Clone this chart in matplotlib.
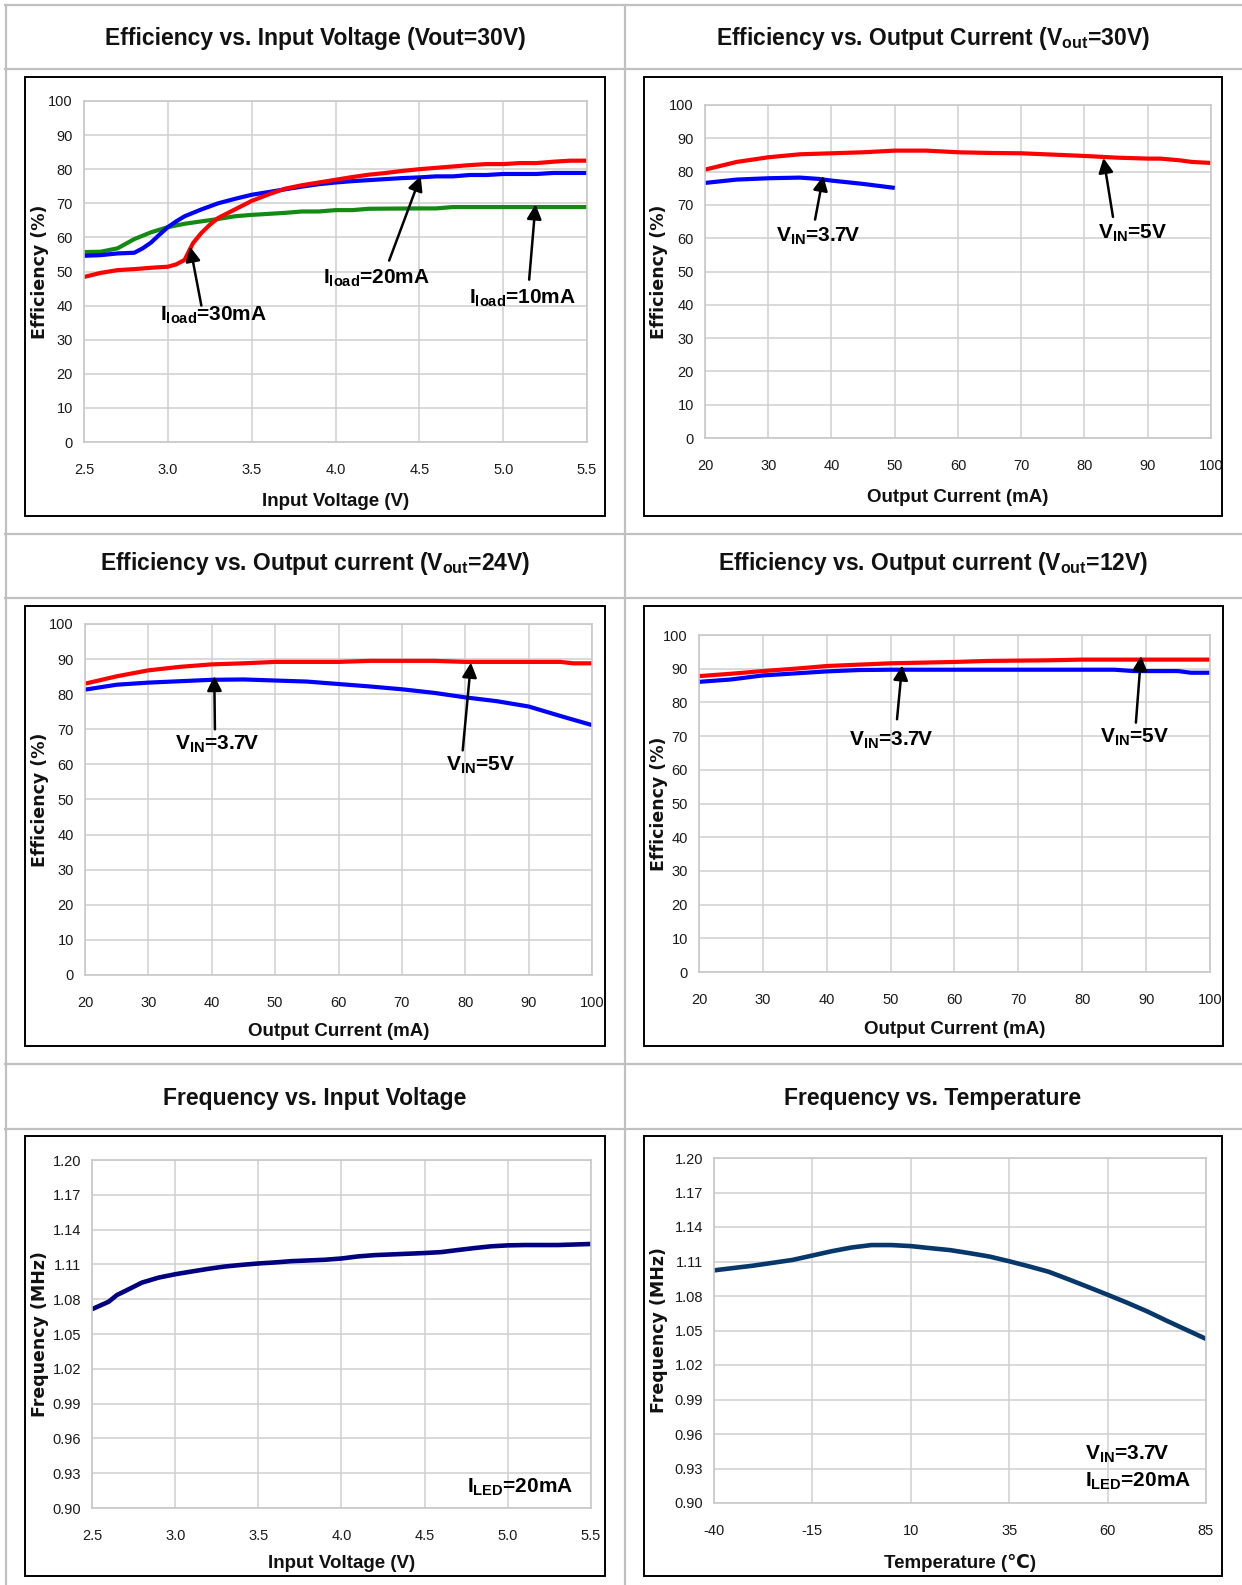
import matplotlib
matplotlib.use('Agg')
import matplotlib.pyplot as plt
from matplotlib.lines import Line2D
from matplotlib.patches import Rectangle
from matplotlib.ticker import FormatStrFormatter

W, H = 1242, 1585

plt.rcParams['mathtext.fontset'] = 'custom'
plt.rcParams['mathtext.bf'] = 'Liberation Sans:bold'
plt.rcParams['mathtext.sf'] = 'Liberation Sans:bold'
plt.rcParams['mathtext.rm'] = 'Liberation Sans'
plt.rcParams['axes.unicode_minus'] = False

TICK_FONT = ['Liberation Sans', 'DejaVu Sans']
LABEL_FONT = ['Liberation Sans', 'DejaVu Sans']
ANN_FONT = ['Liberation Sans', 'DejaVu Sans']

# --- panel 1: efficiency vs input voltage (Vout=30V)
p1_x30 = [2.5, 2.6, 2.7, 2.8, 2.9, 3.0, 3.05, 3.1, 3.15, 3.2, 3.25, 3.3, 3.4, 3.5, 3.6, 3.7,
          3.8, 3.9, 4.0, 4.1, 4.2, 4.3, 4.4, 4.5, 4.6, 4.7, 4.8, 4.9, 5.0, 5.1, 5.2, 5.3, 5.4, 5.5]
p1_y30 = [48.4, 49.6, 50.4, 50.7, 51.1, 51.4, 52.1, 53.4, 58.3, 61.3, 63.7, 65.7, 68.2, 70.7, 72.6, 74.3,
          75.3, 76.1, 76.9, 77.7, 78.4, 78.9, 79.5, 80.0, 80.4, 80.8, 81.2, 81.5, 81.5, 81.8, 81.8, 82.2, 82.5, 82.5]
p1_x20 = [2.5, 2.6, 2.7, 2.8, 2.85, 2.9, 2.95, 3.0, 3.05, 3.1, 3.2, 3.3, 3.4, 3.5, 3.6, 3.7,
          3.8, 3.9, 4.0, 4.1, 4.2, 4.3, 4.4, 4.5, 4.6, 4.7, 4.8, 4.9, 5.0, 5.2, 5.3, 5.5]
p1_y20 = [54.6, 54.8, 55.3, 55.5, 56.8, 58.5, 60.8, 63.0, 64.7, 66.2, 68.2, 70.0, 71.3, 72.5, 73.3, 74.1,
          74.9, 75.6, 76.1, 76.5, 76.8, 77.1, 77.4, 77.6, 77.9, 77.9, 78.3, 78.3, 78.6, 78.6, 78.9, 78.9]
p1_x10 = [2.5, 2.6, 2.7, 2.8, 2.9, 3.0, 3.1, 3.2, 3.3, 3.4, 3.5, 3.6, 3.7, 3.8, 3.9, 4.0,
          4.1, 4.2, 4.5, 4.6, 4.7, 5.5]
p1_y10 = [55.7, 55.8, 56.8, 59.5, 61.5, 63.0, 64.0, 64.7, 65.4, 66.2, 66.6, 66.9, 67.2, 67.6, 67.6, 68.0,
          68.0, 68.4, 68.5, 68.5, 68.9, 68.9]

# --- panel 2: efficiency vs output current (Vout=30V)
p2_x5 = [20, 25, 30, 35, 40, 45, 50, 55, 60, 65, 70, 75, 80, 85, 90, 92, 95, 97, 100]
p2_y5 = [80.6, 82.9, 84.3, 85.2, 85.5, 85.8, 86.3, 86.3, 85.8, 85.6, 85.5, 85.1, 84.7, 84.2, 83.9, 83.9, 83.4, 82.9, 82.6]
p2_x37 = [20, 25, 30, 35, 38, 40, 45, 50]
p2_y37 = [76.6, 77.6, 78.0, 78.2, 77.8, 77.3, 76.3, 75.1]

# --- panel 3: efficiency vs output current (Vout=24V)
p3_x5 = [20, 25, 30, 35, 40, 45, 50, 55, 60, 65, 70, 75, 80, 85, 90, 95, 97, 100]
p3_y5 = [83.0, 85.1, 86.8, 87.8, 88.5, 88.8, 89.2, 89.2, 89.2, 89.5, 89.5, 89.5, 89.2, 89.2, 89.2, 89.2, 88.8, 88.8]
p3_x37 = [20, 25, 30, 35, 40, 45, 50, 55, 60, 65, 70, 75, 80, 85, 90, 95, 100]
p3_y37 = [81.3, 82.7, 83.3, 83.7, 84.1, 84.2, 83.9, 83.6, 82.9, 82.2, 81.4, 80.4, 79.1, 78.0, 76.5, 73.8, 71.2]

# --- panel 4: efficiency vs output current (Vout=12V)
p4_x5 = [20, 25, 30, 35, 40, 45, 50, 55, 60, 65, 70, 75, 80, 85, 90, 95, 100]
p4_y5 = [87.8, 88.5, 89.3, 90.0, 90.8, 91.2, 91.6, 91.8, 92.0, 92.3, 92.4, 92.5, 92.7, 92.7, 92.7, 92.7, 92.7]
p4_x37 = [20, 25, 30, 35, 40, 45, 50, 60, 70, 80, 85, 88, 95, 97, 100]
p4_y37 = [86.1, 86.8, 88.0, 88.6, 89.2, 89.6, 89.7, 89.7, 89.7, 89.7, 89.7, 89.3, 89.3, 88.8, 88.8]

# --- panel 5: frequency vs input voltage
p5_x = [2.5, 2.6, 2.65, 2.7, 2.8, 2.9, 3.0, 3.1, 3.2, 3.3, 3.4, 3.5, 3.6, 3.7, 3.8, 3.9, 4.0,
        4.1, 4.2, 4.3, 4.4, 4.5, 4.6, 4.7, 4.8, 4.9, 5.0, 5.1, 5.3, 5.5]
p5_y = [1.0714, 1.0778, 1.0836, 1.0871, 1.0943, 1.0986, 1.1015, 1.1039, 1.1062, 1.1082, 1.1096, 1.1108,
        1.1117, 1.1128, 1.1134, 1.1140, 1.1151, 1.1169, 1.1180, 1.1186, 1.1192, 1.1198, 1.1206, 1.1224,
        1.1241, 1.1256, 1.1264, 1.1267, 1.1267, 1.1276]

# --- panel 6: frequency vs temperature
p6_x = [-40, -30, -20, -15, -10, -5, 0, 5, 10, 15, 20, 25, 30, 35, 40, 45, 50, 55, 60, 65, 70, 75, 80, 85]
p6_y = [1.1023, 1.1064, 1.1114, 1.1152, 1.1190, 1.1222, 1.1243, 1.1243, 1.1234, 1.1216, 1.1199, 1.1172,
        1.1143, 1.1102, 1.1058, 1.1011, 1.0946, 1.0879, 1.0811, 1.0741, 1.0667, 1.0585, 1.0506, 1.0427]

eff_ticks = list(range(0, 101, 10))
cur_ticks = list(range(20, 101, 10))
vin_ticks = [2.5, 3.0, 3.5, 4.0, 4.5, 5.0, 5.5]
freq_ticks = [0.90, 0.93, 0.96, 0.99, 1.02, 1.05, 1.08, 1.11, 1.14, 1.17, 1.20]
temp_ticks = [-40, -15, 10, 35, 60, 85]

titles = [
    'Efficiency vs. Input Voltage (Vout=30V)',
    r'Efficiency vs. Output Current ($\mathsf{V_{out}}$=30V)',
    r'Efficiency vs. Output current ($\mathsf{V_{out}}$=24V)',
    r'Efficiency vs. Output current ($\mathsf{V_{out}}$=12V)',
    'Frequency vs. Input Voltage',
    'Frequency vs. Temperature',
]

fig = plt.figure(figsize=(W / 100, H / 100), dpi=100)


def frac(x0, y0, x1, y1):
    return [x0 / W, 1 - y1 / H, (x1 - x0) / W, (y1 - y0) / H]


# table lines
tcol = '#c0c0c0'
for yy in [5, 68.5, 534, 598.5, 1064, 1128.5]:
    fig.add_artist(Line2D([5 / W, 1], [1 - yy / H] * 2, color=tcol, lw=1.6))
for xx in [5.5, 625]:
    fig.add_artist(Line2D([xx / W] * 2, [1 - 5 / H, 0], color=tcol, lw=1.6))

# title positions (centre x, centre y) in px
title_pos = [(315, 38), (933, 38), (315, 564), (933, 564), (315, 1098), (933, 1098)]
for t, (cx, cy) in zip(titles, title_pos):
    fig.text(cx / W, 1 - cy / H, t, ha='center', va='center', fontsize=16.5,
             fontweight='bold', family='Liberation Sans', color='#111111')

# chart boxes
boxes = [(25, 77, 605, 516), (644, 77, 1222, 516), (25, 606, 605, 1046),
         (644, 606, 1223, 1046), (25, 1136, 605, 1576), (644, 1136, 1222, 1576)]
for x0, y0, x1, y1 in boxes:
    r = frac(x0, y0, x1, y1)
    fig.add_artist(Rectangle((r[0], r[1]), r[2], r[3], transform=fig.transFigure,
                             fill=False, edgecolor='black', lw=1.4))

# plot areas in px
areas = [(84, 101, 587, 442), (705, 105, 1211, 438), (85, 624, 592, 975),
         (699, 635, 1210, 972), (92, 1160, 591, 1508), (714, 1158, 1206, 1503)]
# y-label centre x in px, x-label offset below axes in px
ylab_x = [40, 659, 40, 659, 40, 659]
xlab_off = [60, 60, 56, 58, 55, 60]

xlabels = ['Input Voltage (V)', 'Output Current (mA)', 'Output Current (mA)',
           'Output Current (mA)', 'Input Voltage (V)', 'Temperature (\u2103)']
ylabels = ['Efficiency (%)'] * 4 + ['Frequency (MHz)'] * 2

axes = []
for i, (x0, y0, x1, y1) in enumerate(areas):
    ax = fig.add_axes(frac(x0, y0, x1, y1))
    ax.set_facecolor('white')
    ax.grid(True, color='#d0d0d0', lw=1.1)
    ax.set_axisbelow(True)
    for s in ax.spines.values():
        s.set_color('#c8c8c8')
        s.set_linewidth(1.2)
    ax.tick_params(length=0, labelsize=10.5, labelcolor='#1a1a1a')
    ax.tick_params(axis='x', pad=15)
    ax.tick_params(axis='y', pad=8)
    ax.set_xlabel(xlabels[i], fontsize=13.5, fontweight='bold', family=LABEL_FONT, color='#111111')
    ax.set_ylabel(ylabels[i], fontsize=12.5, fontweight='bold', family='DejaVu Sans', color='#111111')
    ax.xaxis.label.set_va('center')
    ax.yaxis.label.set_va('center')
    ax.xaxis.set_label_coords(0.5, -xlab_off[i] / (y1 - y0))
    ax.yaxis.set_label_coords((ylab_x[i] - x0) / (x1 - x0), 0.5)
    axes.append(ax)


def finish_ticks(ax, xt, yt, xfmt=None, yfmt=None):
    ax.set_xticks(xt)
    ax.set_yticks(yt)
    ax.set_xlim(xt[0], xt[-1])
    ax.set_ylim(yt[0], yt[-1])
    if xfmt:
        ax.xaxis.set_major_formatter(FormatStrFormatter(xfmt))
    if yfmt:
        ax.yaxis.set_major_formatter(FormatStrFormatter(yfmt))
    for lab in ax.get_xticklabels() + ax.get_yticklabels():
        lab.set_family(TICK_FONT)


def arrow(ax, tail, head):
    ax.annotate('', xy=head, xytext=tail,
                arrowprops=dict(arrowstyle='-|>', color='black', lw=1.8,
                                mutation_scale=22, shrinkA=0, shrinkB=0))


def label(ax, x, y, s, ha='center'):
    ax.text(x, y, s, ha=ha, va='center', fontsize=15, fontweight='bold',
            family=ANN_FONT, color='black')


LW = 3.0
RED, BLUE, GREEN = '#ff0000', '#0000ff', '#138a13'

ax = axes[0]
ax.plot(p1_x10, p1_y10, color=GREEN, lw=LW, solid_capstyle='butt')
ax.plot(p1_x20, p1_y20, color=BLUE, lw=LW, solid_capstyle='butt')
ax.plot(p1_x30, p1_y30, color=RED, lw=LW, solid_capstyle='butt')
finish_ticks(ax, vin_ticks, eff_ticks, xfmt='%.1f')
arrow(ax, (3.2, 40), (3.133, 57.3))
label(ax, 3.275, 37, r'$\mathbf{I_{load}}$=30mA')
arrow(ax, (4.32, 53.2), (4.508, 78))
label(ax, 4.243, 47.9, r'$\mathbf{I_{load}}$=20mA')
arrow(ax, (5.155, 47.6), (5.193, 69.7))
label(ax, 5.113, 42, r'$\mathbf{I_{load}}$=10mA')

ax = axes[1]
ax.plot(p2_x5, p2_y5, color=RED, lw=LW, solid_capstyle='butt')
ax.plot(p2_x37, p2_y37, color=BLUE, lw=LW, solid_capstyle='butt')
finish_ticks(ax, cur_ticks, eff_ticks)
arrow(ax, (37.4, 65.6), (38.7, 78.7))
label(ax, 38.0, 60.6, r'$\mathbf{V_{IN}}$=3.7V')
arrow(ax, (84.5, 66.4), (83.0, 84.1))
label(ax, 87.5, 61.6, r'$\mathbf{V_{IN}}$=5V')

ax = axes[2]
ax.plot(p3_x5, p3_y5, color=RED, lw=LW, solid_capstyle='butt')
ax.plot(p3_x37, p3_y37, color=BLUE, lw=LW, solid_capstyle='butt')
finish_ticks(ax, cur_ticks, eff_ticks)
arrow(ax, (40.5, 70), (40.4, 85.2))
label(ax, 40.9, 65.7, r'$\mathbf{V_{IN}}$=3.7V')
arrow(ax, (79.6, 64), (80.9, 89))
label(ax, 82.4, 59.7, r'$\mathbf{V_{IN}}$=5V')

ax = axes[3]
ax.plot(p4_x5, p4_y5, color=RED, lw=LW, solid_capstyle='butt')
ax.plot(p4_x37, p4_y37, color=BLUE, lw=LW, solid_capstyle='butt')
finish_ticks(ax, cur_ticks, eff_ticks)
arrow(ax, (51.0, 75), (51.8, 91))
label(ax, 50.1, 68.8, r'$\mathbf{V_{IN}}$=3.7V')
arrow(ax, (88.4, 74), (89.2, 93.8))
label(ax, 88.2, 69.7, r'$\mathbf{V_{IN}}$=5V')

ax = axes[4]
ax.plot(p5_x, p5_y, color='#000080', lw=3.3, solid_capstyle='butt')
finish_ticks(ax, vin_ticks, freq_ticks, xfmt='%.1f', yfmt='%.2f')
label(ax, 5.395, 0.918, r'$\mathbf{I_{LED}}$=20mA', ha='right')

ax = axes[5]
ax.plot(p6_x, p6_y, color='#06386b', lw=3.3, solid_capstyle='butt')
finish_ticks(ax, temp_ticks, freq_ticks, yfmt='%.2f')
label(ax, 54.3, 0.942, r'$\mathbf{V_{IN}}$=3.7V', ha='left')
label(ax, 54.3, 0.919, r'$\mathbf{I_{LED}}$=20mA', ha='left')

fig.savefig('out.png', dpi=100, facecolor='white')
